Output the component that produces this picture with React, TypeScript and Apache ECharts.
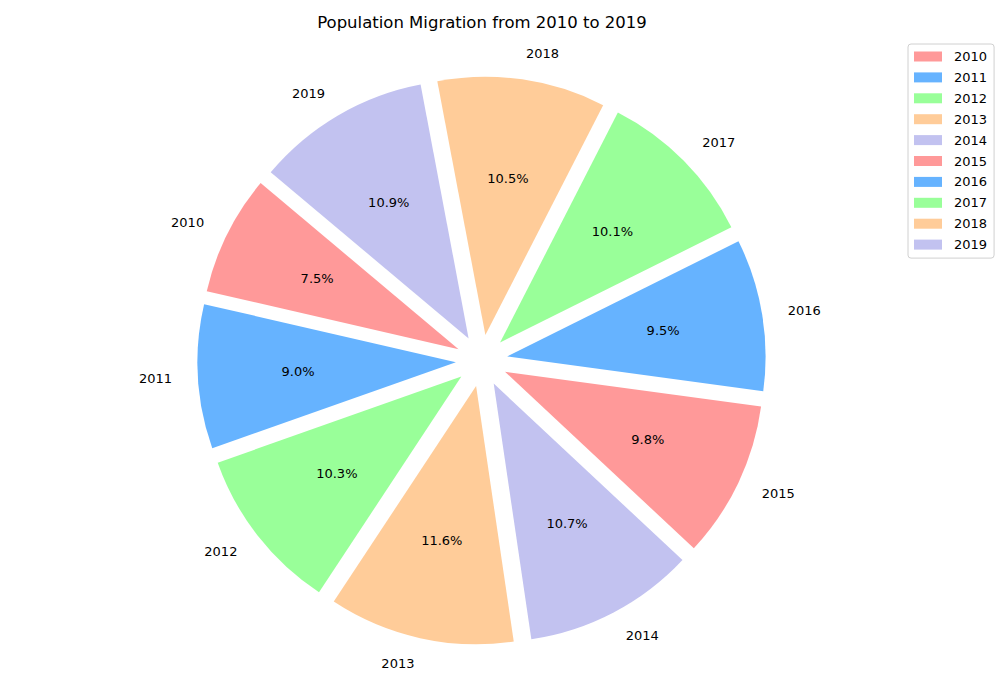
import React, { useEffect, useRef } from "react";
import * as echarts from "echarts";

const years = ["2010", "2011", "2012", "2013", "2014", "2015", "2016", "2017", "2018", "2019"];
const shares = [7.5, 9.0, 10.3, 11.6, 10.7, 9.8, 9.5, 10.1, 10.5, 10.9];
const palette = ["#ff9999", "#66b3ff", "#99ff99", "#ffcc99", "#c2c2f0"];
const titleText = "Population Migration from 2010 to 2019";

const FONT = "DejaVu Sans";
const CX = 481.7;
const CY = 360.7;
const R = 258.4;
const OFFSET = 0.1 * R;

export default function App() {
  const ref = useRef<HTMLDivElement>(null);
  useEffect(() => {
    document.body.style.margin = "0";
    const chart = echarts.init(ref.current!, null, { renderer: "svg" });
    const total = shares.reduce((a, b) => a + b, 0);
    const baseData = years.map((y, i) => ({
      name: y,
      value: shares[i],
    }));
    const common = {
      type: "pie",
      center: [CX, CY],
      startAngle: 140,
      clockwise: false,
      avoidLabelOverlap: false,
      animation: false,
    };
    chart.setOption({
      animation: false,
      color: palette,
      title: {
        text: titleText,
        left: 482,
        top: 14,
        padding: 0,
        textAlign: "center",
        textStyle: { fontFamily: FONT, fontSize: 16.5, fontWeight: "normal", color: "#000" },
      },
      legend: {
        orient: "vertical",
        left: 908,
        top: 44,
        data: years,
        icon: "rect",
        itemWidth: 28,
        itemHeight: 10,
        itemGap: 7.9,
        padding: [6, 7, 7, 6],
        borderColor: "#d0d0d0",
        borderWidth: 1,
        borderRadius: 3,
        selectedMode: false,
        textStyle: { fontFamily: FONT, fontSize: 13, color: "#000", padding: [0, 0, 0, 7] },
      },
      series: [
        {
          ...common,
          name: "main",
          radius: [0, R],
          selectedMode: "multiple",
          selectedOffset: OFFSET,
          itemStyle: { borderWidth: 0 },
          label: { show: false },
          labelLine: { show: false },
          emphasis: { disabled: true },
          data: baseData.map((d) => ({ ...d, selected: true })),
        },
        {
          ...common,
          name: "pct",
          radius: [0, 2 * (0.7 * R)],
          silent: true,
          itemStyle: { color: "rgba(0,0,0,0)", borderWidth: 0 },
          emphasis: { disabled: true },
          label: {
            show: true,
            position: "inside",
            fontFamily: FONT,
            fontSize: 13,
            color: "#000",
            formatter: (p: any) => ((p.value / total) * 100).toFixed(1) + "%",
          },
          labelLine: { show: false },
          data: baseData,
        },
        {
          ...common,
          name: "years",
          radius: [0, 1.2 * R],
          silent: true,
          itemStyle: { color: "rgba(0,0,0,0)", borderWidth: 0 },
          emphasis: { disabled: true },
          label: {
            show: true,
            position: "outside",
            fontFamily: FONT,
            fontSize: 13,
            color: "#000",
            distanceToLabelLine: 0,
            formatter: "{b}",
          },
          labelLine: { show: false, length: 0, length2: 0 },
          data: baseData,
        },
      ],
    });
    return () => chart.dispose();
  }, []);
  return <div ref={ref} style={{ width: 1000, height: 700 }} />;
}
